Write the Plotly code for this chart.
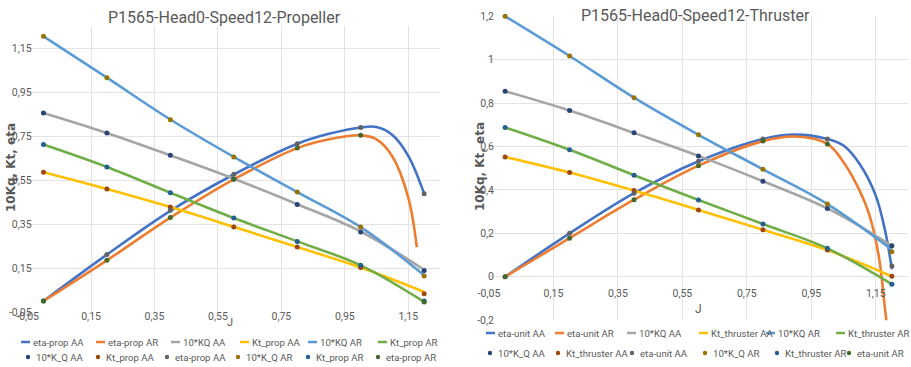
import plotly.graph_objects as go

# ---------------- data ----------------
J = [0, 0.2, 0.4, 0.6, 0.8, 1.0, 1.2]
J_fit = [0, 0.2, 0.4, 0.6, 0.8, 0.9, 1.0, 1.05, 1.1, 1.15, 1.2]

# Propeller (left) - fitted curves
prop_eta_aa_line = [0.0, 0.211, 0.41, 0.575, 0.715, 0.76, 0.789, 0.791, 0.755, 0.66, 0.488]
prop_eta_ar_J = [0, 0.2, 0.4, 0.6, 0.8, 0.9, 1.0, 1.05, 1.1, 1.15, 1.177]
prop_eta_ar_line = [0.0, 0.185, 0.379, 0.553, 0.695, 0.735, 0.753, 0.735, 0.657, 0.47, 0.245]
prop_kq_aa_line = [0.855, 0.764, 0.662, 0.556, 0.44, 0.316, 0.142]
prop_kt_aa_line = [0.585, 0.509, 0.427, 0.337, 0.245, 0.152, 0.041]
prop_kq_ar_line = [1.203, 1.015, 0.825, 0.655, 0.495, 0.336, 0.117]
prop_kt_ar_line = [0.711, 0.609, 0.492, 0.377, 0.271, 0.162, -0.004]
# Propeller (left) - measured points
prop_kq_aa_pts = [0.855, 0.764, 0.662, 0.555, 0.439, 0.314, 0.139]
prop_kt_aa_pts = [0.585, 0.509, 0.427, 0.336, 0.245, 0.152, 0.033]
prop_eta_aa_pts = [0.0, 0.211, 0.412, 0.576, 0.715, 0.789, 0.488]
prop_kq_ar_pts = [1.203, 1.015, 0.824, 0.655, 0.495, 0.336, 0.114]
prop_kt_ar_pts = [0.711, 0.609, 0.492, 0.377, 0.271, 0.162, 0.0]
prop_eta_ar_pts = [0.0, 0.185, 0.379, 0.553, 0.695, 0.753, -0.005]

# Thruster (right) - fitted curves
thr_eta_aa_J = [0, 0.2, 0.4, 0.6, 0.8, 0.9, 1.0, 1.05, 1.1, 1.15, 1.18, 1.2]
thr_eta_aa_line = [0.0, 0.2, 0.385, 0.532, 0.635, 0.655, 0.635, 0.605, 0.52, 0.374, 0.205, 0.035]
thr_eta_ar_J = [0, 0.2, 0.4, 0.6, 0.8, 0.9, 1.0, 1.05, 1.1, 1.13, 1.16, 1.18, 1.19]
thr_eta_ar_line = [0.0, 0.178, 0.355, 0.512, 0.625, 0.646, 0.612, 0.528, 0.397, 0.286, 0.089, -0.165, -0.28]
thr_kq_aa_line = [0.855, 0.766, 0.663, 0.557, 0.44, 0.315, 0.143]
thr_kt_aa_line = [0.552, 0.48, 0.397, 0.308, 0.217, 0.123, 0.002]
thr_kq_ar_line = [1.2, 1.017, 0.825, 0.654, 0.495, 0.335, 0.125]
thr_kt_ar_line = [0.688, 0.585, 0.468, 0.354, 0.243, 0.131, -0.034]
# Thruster (right) - measured points
thr_kq_aa_pts = [0.855, 0.766, 0.663, 0.557, 0.44, 0.315, 0.143]
thr_kt_aa_pts = [0.552, 0.48, 0.397, 0.308, 0.217, 0.123, 0.002]
thr_eta_aa_pts = [0.0, 0.2, 0.385, 0.532, 0.635, 0.635, 0.05]
thr_kq_ar_pts = [1.2, 1.017, 0.825, 0.654, 0.495, 0.335, 0.115]
thr_kt_ar_pts = [0.688, 0.585, 0.468, 0.354, 0.243, 0.131, -0.034]
thr_eta_ar_pts = [0.0, 0.178, 0.355, 0.512, 0.625, 0.612, None]

x_tickvals = [-0.05, 0.15, 0.35, 0.55, 0.75, 0.95, 1.15]
x_ticktext = ["-0,05", "0,15", "0,35", "0,55", "0,75", "0,95", "1,15"]
yl_tickvals = [-0.05, 0.15, 0.35, 0.55, 0.75, 0.95, 1.15]
yl_ticktext = ["-0,05", "0,15", "0,35", "0,55", "0,75", "0,95", "1,15"]
yr_tickvals = [-0.2, 0, 0.2, 0.4, 0.6, 0.8, 1, 1.2]
yr_ticktext = ["-0,2", "0", "0,2", "0,4", "0,6", "0,8", "1", "1,2"]

titles = ["P1565-Head0-Speed12-Propeller", "P1565-Head0-Speed12-Thruster"]
ytitle = "10Kq, Kt, eta"
xtitle = "J"

prop_line_names = ["eta-prop AA", "eta-prop AR", "10*KQ AA", "Kt_prop AA", "10*KQ AR", "Kt_prop AR"]
prop_pts_names = ["10*K_Q AA", "Kt_prop AA", "eta-prop AA", "10*K_Q AR", "Kt_prop AR", "eta-prop AR"]
thr_line_names = ["eta-unit AA", "eta-unit AR", "10*KQ AA", "Kt_thruster AA", "10*KQ AR", "Kt_thruster AR"]
thr_pts_names = ["10*K_Q AA", "Kt_thruster AA", "eta-unit AA", "10*K_Q AR", "Kt_thruster AR", "eta-unit AR"]

# ---------------- styling ----------------
W, H = 911, 367
FONT = "Roboto, Liberation Sans, Arial, sans-serif"
TXT = "#595959"
GRID = "#E3E3E3"
LINE_KEYS = ["eta AA", "eta AR", "KQ AA", "Kt AA", "KQ AR", "Kt AR"]
PTS_KEYS = ["KQ AA", "Kt AA", "eta AA", "KQ AR", "Kt AR", "eta AR"]
LC = {"eta AA": "#4472C4", "eta AR": "#ED7D31", "KQ AA": "#A5A5A5",
      "Kt AA": "#FFC000", "KQ AR": "#5B9BD5", "Kt AR": "#70AD47"}
MC = {"KQ AA": "#264478", "Kt AA": "#9E480E", "eta AA": "#636363",
      "KQ AR": "#997300", "Kt AR": "#255E91", "eta AR": "#43682B"}

fig = go.Figure()


def add_block(xa, ya, names_line, names_pts, lines, pts):
    for nm, key, (xs, ys) in zip(names_line, LINE_KEYS, lines):
        fig.add_trace(go.Scatter(x=xs, y=ys, mode="lines", name=nm, xaxis=xa, yaxis=ya,
                                 line=dict(color=LC[key], width=2.6, shape="spline", smoothing=1.0),
                                 showlegend=False, hoverinfo="skip"))
    for nm, key, ys in zip(names_pts, PTS_KEYS, pts):
        fig.add_trace(go.Scatter(x=J, y=ys, mode="markers", name=nm, xaxis=xa, yaxis=ya,
                                 marker=dict(color=MC[key], size=5, symbol="circle"),
                                 showlegend=False, hoverinfo="skip", cliponaxis=False))


add_block("x", "y", prop_line_names, prop_pts_names,
          [(J_fit, prop_eta_aa_line), (prop_eta_ar_J, prop_eta_ar_line), (J, prop_kq_aa_line),
           (J, prop_kt_aa_line), (J, prop_kq_ar_line), (J, prop_kt_ar_line)],
          [prop_kq_aa_pts, prop_kt_aa_pts, prop_eta_aa_pts, prop_kq_ar_pts, prop_kt_ar_pts, prop_eta_ar_pts])

add_block("x2", "y2", thr_line_names, thr_pts_names,
          [(thr_eta_aa_J, thr_eta_aa_line), (thr_eta_ar_J, thr_eta_ar_line), (J, thr_kq_aa_line),
           (J, thr_kt_aa_line), (J, thr_kq_ar_line), (J, thr_kt_ar_line)],
          [thr_kq_aa_pts, thr_kt_aa_pts, thr_eta_aa_pts, thr_kq_ar_pts, thr_kt_ar_pts, thr_eta_ar_pts])


def px_x(p):
    return p / W


def px_y(p):
    return 1 - p / H


tickfont = dict(family=FONT, size=10.5, color=TXT)
axis_common = dict(showgrid=True, gridcolor=GRID, gridwidth=1, zeroline=False, showline=False,
                   ticks="", tickfont=tickfont, fixedrange=True, automargin=False)

fig.update_layout(
    width=W, height=H, autosize=False,
    margin=dict(l=0, r=0, t=0, b=0, autoexpand=False),
    paper_bgcolor="white", plot_bgcolor="white",
    showlegend=False,
    xaxis=dict(domain=[px_x(27.6), px_x(440)], range=[-0.05, 1.25], tickvals=x_tickvals,
               ticktext=x_ticktext, anchor="y", ticklabelstandoff=-4, **axis_common),
    yaxis=dict(domain=[px_y(312), px_y(26)], range=[-0.05, 1.25], tickvals=yl_tickvals,
               ticktext=yl_ticktext, anchor="x", ticklabelstandoff=-5, **axis_common),
    xaxis2=dict(domain=[px_x(489), px_x(908)], range=[-0.05, 1.25], tickvals=x_tickvals,
                ticktext=x_ticktext, anchor="free", position=px_y(276.7), ticklabelstandoff=9,
                **axis_common),
    yaxis2=dict(domain=[px_y(320.2), px_y(16.3)], range=[-0.2, 1.2], tickvals=yr_tickvals,
                ticktext=yr_ticktext, anchor="x2", ticklabelstandoff=-6, **axis_common),
)

# ---------------- legend (two rows under each chart) ----------------
shapes = []
ann = []
LEG_FONT = dict(family=FONT, size=9.6, color=TXT)
common_a = dict(xref="paper", yref="paper", showarrow=False)


def legend_rows(line_names, pts_names, row1_y, row2_y, row1_text_x, row2_dot_x):
    for nm, key, tx in zip(line_names, LINE_KEYS, row1_text_x):
        shapes.append(dict(type="line", xref="paper", yref="paper",
                           x0=px_x(tx - 10), x1=px_x(tx - 1), y0=px_y(row1_y), y1=px_y(row1_y),
                           line=dict(color=LC[key], width=2.5)))
        ann.append(dict(text=nm, x=px_x(tx), y=px_y(row1_y), xanchor="left", yanchor="middle",
                        font=LEG_FONT, **common_a))
    for nm, key, dx in zip(pts_names, PTS_KEYS, row2_dot_x):
        shapes.append(dict(type="circle", xref="paper", yref="paper",
                           x0=px_x(dx - 2.2), x1=px_x(dx + 2.2), y0=px_y(row2_y - 2.2),
                           y1=px_y(row2_y + 2.2), fillcolor=MC[key], line=dict(width=0)))
        ann.append(dict(text=nm, x=px_x(dx + 6), y=px_y(row2_y), xanchor="left", yanchor="middle",
                        font=LEG_FONT, **common_a))


legend_rows(prop_line_names, prop_pts_names, 342, 357,
            [31, 106, 181, 250, 318, 388], [28, 98, 167, 238, 308, 378])
legend_rows(thr_line_names, thr_pts_names, 333, 353,
            [496, 565, 637, 709, 776, 846], [490, 558, 632, 705, 777, 849])

ann.append(dict(text=titles[0], x=px_x(224), y=px_y(17), xanchor="center", yanchor="middle",
                font=dict(family=FONT, size=16, color=TXT), **common_a))
ann.append(dict(text=titles[1], x=px_x(695), y=px_y(15), xanchor="center", yanchor="middle",
                font=dict(family=FONT, size=16, color=TXT), **common_a))
for xx, yy in [(11, 168), (480, 167)]:
    ann.append(dict(text="<b>" + ytitle + "</b>", x=px_x(xx), y=px_y(yy), textangle=-90,
                    xanchor="center", yanchor="middle",
                    font=dict(family="DejaVu Sans", size=12, color=TXT), **common_a))
ann.append(dict(text=xtitle, x=px_x(230), y=px_y(322), xanchor="center", yanchor="middle",
                font=dict(family=FONT, size=11, color=TXT), **common_a))
ann.append(dict(text=xtitle, x=px_x(698), y=px_y(309), xanchor="center", yanchor="middle",
                font=dict(family=FONT, size=12, color=TXT), **common_a))
fig.update_layout(annotations=ann, shapes=shapes)

fig.write_html("out.html")
